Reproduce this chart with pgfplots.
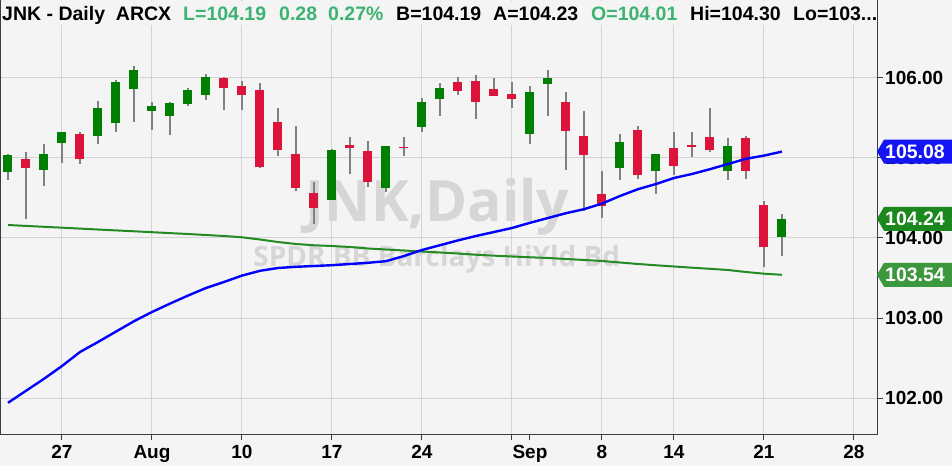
\documentclass[border=0pt]{standalone}
\usepackage{fontspec}
\setmainfont{Liberation Sans}
\newfontfamily\wmfont{Open Sans}
\usepackage{pgfplots}
\pgfplotsset{compat=1.18}
\usepackage{pgfplotstable}
\usetikzlibrary{calc}

\definecolor{bg}{RGB}{244,244,244}
\definecolor{gridc}{RGB}{212,212,212}
\definecolor{upc}{RGB}{0,128,0}
\definecolor{dnc}{RGB}{220,20,60}
\definecolor{wickc}{RGB}{128,128,128}
\definecolor{maBlue}{RGB}{0,0,255}
\definecolor{maGreen}{RGB}{34,139,34}
\definecolor{hdrGreen}{RGB}{60,179,113}
\definecolor{tagBlue}{RGB}{20,20,245}
\definecolor{tagGreenA}{RGB}{28,135,28}
\definecolor{tagGreenB}{RGB}{60,152,60}
\definecolor{wmc}{RGB}{214,214,214}
\definecolor{axc}{RGB}{60,60,70}

% up (green) candles: index, open, high, low, close
\pgfplotstableread{
i o h l c
0 104.82 105.05 104.73 105.04
2 104.85 105.175 104.65 105.05
3 105.19 105.33 104.94 105.325
5 105.28 105.71 105.18 105.625
6 105.44 105.975 105.32 105.95
7 105.86 106.15 105.45 106.10
8 105.59 105.70 105.35 105.65
9 105.53 105.70 105.29 105.69
10 105.68 105.875 105.65 105.85
11 105.79 106.05 105.72 106.01
18 104.47 105.11 104.47 105.10
21 104.62 105.15 104.57 105.15
23 105.39 105.75 105.32 105.70
24 105.74 105.94 105.52 105.875
29 105.30 105.90 105.18 105.825
30 105.93 106.10 105.52 106.00
34 104.88 105.30 104.73 105.20
36 104.84 105.05 104.55 105.05
40 104.84 105.25 104.72 105.15
43 104.01 104.30 103.77 104.24
}\upcandles

% down (red) candles: index, open, high, low, close
\pgfplotstableread{
i o h l c
1 104.99 105.075 104.24 104.87
4 105.30 105.325 104.93 104.99
12 106.00 106.01 105.60 105.87
13 105.90 105.96 105.60 105.79
14 105.85 105.94 104.87 104.89
15 105.45 105.625 105.02 105.10
16 105.05 105.40 104.59 104.62
17 104.5625 104.70 104.18 104.37
19 105.16 105.26 104.80 105.12
20 105.09 105.21 104.64 104.70
22 105.14 105.26 105.02 105.125
25 105.95 106.01 105.79 105.84
26 105.96 106.04 105.49 105.70
27 105.86 106.00 105.78 105.78
28 105.80 105.95 105.62 105.74
31 105.70 105.825 104.85 105.34
32 105.275 105.59 104.34 105.04
33 104.55 104.84 104.25 104.40
35 105.35 105.40 104.74 104.79
37 105.125 105.325 104.79 104.90
38 105.16 105.325 105.02 105.145
39 105.26 105.625 105.07 105.10
41 105.25 105.275 104.74 104.84
42 104.41 104.46 103.64 103.89
}\dncandles

% moving averages: index, blue (50-day), green (200-day)
\pgfplotstableread{
i b g
0 101.94 104.1625
1 102.09 104.151
2 102.24 104.140
3 102.40 104.129
4 102.575 104.1175
5 102.70 104.106
6 102.83 104.095
7 102.96 104.084
8 103.075 104.0725
9 103.18 104.061
10 103.28 104.050
11 103.375 104.0375
12 103.45 104.025
13 103.53 104.009
14 103.59 103.981
15 103.625 103.950
16 103.64 103.925
17 103.65 103.909
18 103.66 103.900
19 103.675 103.8875
20 103.69 103.869
21 103.71 103.856
22 103.775 103.844
23 103.85 103.831
24 103.91 103.819
25 103.97 103.806
26 104.025 103.791
27 104.075 103.779
28 104.125 103.769
29 104.19 103.759
30 104.25 103.750
31 104.31 103.7375
32 104.36 103.725
33 104.43 103.7125
34 104.525 103.694
35 104.61 103.675
36 104.675 103.659
37 104.75 103.644
38 104.80 103.629
39 104.86 103.615
40 104.925 103.600
41 104.99 103.575
42 105.03 103.554
43 105.08 103.540
}\mas

\begin{document}
\begin{tikzpicture}[x=1pt,y=1pt]
\useasboundingbox (0,-32) rectangle (952,434);
\fill[bg] (0,-32) rectangle (952,434);
\begin{axis}[
  at={(0,0)}, anchor=south west, scale only axis,
  width=877pt, height=434pt,
  xmin=-0.444, xmax=48.28, ymin=101.55, ymax=106.975,
  axis background/.style={fill=bg},
  axis line style={axc, line width=1pt},
  xtick={3,8,13,18,23,28,33,37,42,47},
  xticklabels={27,Aug,10,17,24,{},8,14,21,28},
  extra x ticks={29}, extra x tick labels={Sep},
  extra x tick style={grid=none},
  ytick={102,103,104,105,106},
  yticklabels={102.00,103.00,104.00,105.00,106.00},
  yticklabel pos=right, ytick pos=right, xtick pos=bottom,
  grid=major, major grid style={gridc, line width=1pt},
  tick align=outside, major tick length=6pt,
  tick style={axc, line width=1pt},
  ticklabel style={font=\fontsize{19}{19}\selectfont\bfseries, text=black},
  yticklabel style={inner sep=2pt},
  xticklabel style={inner sep=2pt, yshift=-3pt},
  /pgf/number format/assume math mode=true,
  candle/.style={draw=none, mark=none, forget plot, error bars/.cd, y dir=both, y explicit, error mark=none},
]
% watermark
\node[anchor=base, text=wmc, font=\wmfont\fontsize{57}{57}\selectfont\bfseries]
  at (rel axis cs:0.499,0.489) {JNK,Daily};
\node[anchor=base, text=wmc, font=\wmfont\fontsize{28}{28}\selectfont\bfseries]
  at (rel axis cs:0.498,0.3855) {SPDR BB Barclays HiYld Bd};
% wicks
\addplot[candle, error bar style={draw=wickc, line width=1.3pt}]
  table[x=i, y expr=(\thisrow{h}+\thisrow{l})/2, y error expr=(\thisrow{h}-\thisrow{l})/2] {\upcandles};
\addplot[candle, error bar style={draw=wickc, line width=1.3pt}]
  table[x=i, y expr=(\thisrow{h}+\thisrow{l})/2, y error expr=(\thisrow{h}-\thisrow{l})/2] {\dncandles};
% bodies
\addplot[candle, error bar style={draw=upc, line width=9pt}]
  table[x=i, y expr=(\thisrow{o}+\thisrow{c})/2, y error expr=(\thisrow{c}-\thisrow{o})/2] {\upcandles};
\addplot[candle, error bar style={draw=dnc, line width=9pt}]
  table[x=i, y expr=(\thisrow{o}+\thisrow{c})/2, y error expr=(\thisrow{o}-\thisrow{c})/2] {\dncandles};
% moving averages
\addplot[maGreen, line width=2pt, mark=none] table[x=i, y=g] {\mas};
\addplot[maBlue, line width=2.4pt, mark=none] table[x=i, y=b] {\mas};
\coordinate (tb) at (axis cs:0,105.08);
\coordinate (tg) at (axis cs:0,104.24);
\coordinate (tl) at (axis cs:0,103.54);
\end{axis}
% header
\fill[bg] (0.6,409) rectangle (876.4,433.4);
\begin{scope}[every node/.style={anchor=base west, inner sep=0pt, font=\fontsize{19.5}{19.5}\selectfont\bfseries}]
\node at (2,413.3) {JNK - Daily\ \ ARCX};
\node[text=hdrGreen] at (183,413.3) {L=104.19};
\node[text=hdrGreen] at (279,413.3) {0.28};
\node[text=hdrGreen] at (328,413.3) {0.27\%};
\node at (396,413.3) {B=104.19};
\node at (493,413.3) {A=104.23};
\node[text=hdrGreen] at (591,413.3) {O=104.01};
\node at (690,413.3) {Hi=104.30};
\node at (793,413.3) {Lo=103...};
\end{scope}
% price tags
\path let \p1=(tb) in coordinate (pb) at (877,\y1);
\path let \p1=(tg) in coordinate (pg) at (877,\y1);
\path let \p1=(tl) in coordinate (pl) at (877,\y1);
\foreach \c/\col/\t in {pb/tagBlue/105.08, pg/tagGreenA/104.24, pl/tagGreenB/103.54}{
  \fill[\col] (\c) -- ++(7,12) -- ++(68,0) -- ++(0,-24) -- ++(-68,0) -- cycle;
  \node[text=white, inner sep=0pt, font=\fontsize{19.5}{19.5}\selectfont\bfseries] at ($(\c)+(38,0)$) {\t};
}
\end{tikzpicture}
\end{document}
